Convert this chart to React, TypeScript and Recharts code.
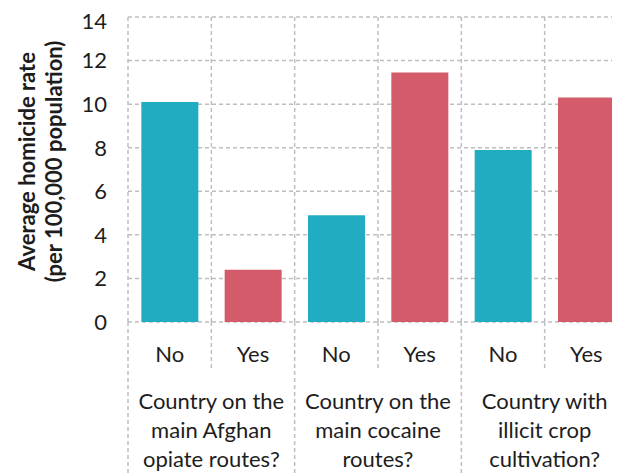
import { Bar, BarChart, CartesianGrid, Cell, Label, XAxis, YAxis } from "recharts";

const answers = ["No", "Yes", "No", "Yes", "No", "Yes"];
const rates = [10.1, 2.4, 4.9, 11.45, 7.9, 10.3];
const groupLabels = [
  ["Country on the", "main Afghan", "opiate routes?"],
  ["Country on the", "main cocaine", "routes?"],
  ["Country with", "illicit crop", "cultivation?"],
];
const yTicks = [0, 2, 4, 6, 8, 10, 12, 14];

const teal = "#22ACC2";
const red = "#D45B6A";
const gridColor = "#BEBEC0";
const textColor = "#1d1d1d";
const font = "Lato, 'Open Sans', sans-serif";
const fontSize = 22;

const data = answers.map((a, i) => ({ name: a, rate: rates[i] }));

function XTick(props: any) {
  const { x, y, payload, index, width, visibleTicksCount } = props;
  const band = (width ?? 500) / (visibleTicksCount ?? answers.length);
  const groupStart = index % 2 === 0;
  const left = x - band / 2;
  return (
    <g>
      <line
        x1={left}
        x2={left}
        y1={y}
        y2={y + (groupStart ? 160 : 46)}
        stroke={gridColor}
        strokeWidth={1.5}
        strokeDasharray="4 3"
      />
      <text
        x={x}
        y={y + 31}
        textAnchor="middle"
        dominantBaseline="central"
        fill={textColor}
        fontSize={fontSize}
        fontFamily={font}
      >
        {payload.value}
      </text>
      {groupStart &&
        groupLabels[index / 2].map((line, j) => (
          <text
            key={j}
            x={x + band / 2}
            y={y + 78 + j * 29}
            textAnchor="middle"
            dominantBaseline="central"
            fill={textColor}
            fontSize={fontSize}
            fontFamily={font}
          >
            {line}
          </text>
        ))}
    </g>
  );
}

function YTitle(props: any) {
  const { viewBox } = props;
  const cy = viewBox ? viewBox.y + viewBox.height / 2 - 8 : 160;
  return (
    <g transform={`translate(0, ${cy}) rotate(-90)`}>
      <text
        x={0}
        y={18}
        textAnchor="middle"
        dominantBaseline="central"
        fill={textColor}
        fontSize={fontSize}
        fontWeight={700}
        fontFamily={font}
      >
        Average homicide rate
      </text>
      <text
        x={0}
        y={45}
        textAnchor="middle"
        dominantBaseline="central"
        fill={textColor}
        fontSize={fontSize}
        fontWeight={700}
        fontFamily={font}
      >
        (per 100,000 population)
      </text>
    </g>
  );
}

export default function App() {
  return (
    <div style={{ width: 612, height: 465, overflow: "hidden", background: "#fff" }}>
      <BarChart
        width={630}
        height={465}
        data={data}
        margin={{ top: 9, right: 10, left: 0, bottom: 0 }}
        barCategoryGap="16%"
      >
        <CartesianGrid
          stroke={gridColor}
          strokeWidth={1.5}
          strokeDasharray="4 3"
          verticalCoordinatesGenerator={({ offset }: any) =>
            answers.map((_, i) => offset.left + (i * offset.width) / answers.length)
          }
        />
        <XAxis
          dataKey="name"
          axisLine={false}
          tickLine={false}
          tickSize={0}
          tickMargin={0}
          height={151}
          interval={0}
          tick={<XTick />}
        />
        <YAxis
          domain={[0, 14]}
          ticks={yTicks}
          width={120}
          axisLine={false}
          tickLine={false}
          tickMargin={15}
          tick={{ fill: textColor, fontSize, fontFamily: font }}
        >
          <Label content={<YTitle />} />
        </YAxis>
        <Bar dataKey="rate" isAnimationActive={false}>
          {data.map((_, i) => (
            <Cell key={i} fill={i % 2 === 0 ? teal : red} />
          ))}
        </Bar>
      </BarChart>
    </div>
  );
}
